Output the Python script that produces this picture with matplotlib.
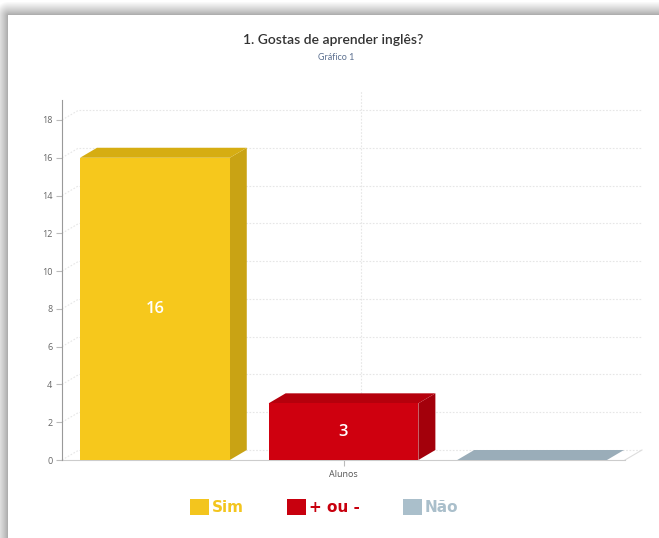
import numpy as np
import matplotlib.pyplot as plt
from matplotlib.patches import Polygon

# Dados do gráfico
categorias = ["Alunos"]
series = ["Sim", "+ ou -", "Não"]
valores = [16, 3, 0]

titulo = "1. Gostas de aprender inglês?"
subtitulo = "Gráfico 1"

# Cores (frente, topo, lado, legenda)
cor_frente = ["#F6C81C", "#CF000F", "#9DB0BC"]
cor_topo = ["#D6AD12", "#B5000C", "#9AADB9"]
cor_lado = ["#C9A314", "#A3000B", "#8E9FAA"]
cor_legenda = ["#F3C51E", "#C8000E", "#AABFCB"]

W, H = 659, 538
fig = plt.figure(figsize=(W / 100, H / 100), dpi=100)

# Moldura branca com sombra em cima e à esquerda
yy, xx = np.mgrid[0:H, 0:W]
dx = np.clip(8 - xx, 0, None)
dy = np.clip(15 - yy, 0, None)
d = np.hypot(dx, dy)
sombra = np.where(d > 0, 0.64 + 0.36 * np.clip(d / 14.0, 0, 1) ** 0.8, 1.0)
img = np.dstack([sombra, sombra, sombra])
fig.figimage(img, 0, 0, origin="upper", zorder=0)

# Área do gráfico
ax = fig.add_axes([62 / W, 78 / H, 563 / W, 360 / H])
ax.set_zorder(2)
ax.patch.set_visible(False)
ymax = 360 / 18.89
ax.set_xlim(-0.5, 0.5)
ax.set_ylim(0, ymax)

# profundidade 3D em unidades de dados
DX = 17 / 563
DY = 10 / 18.89

passo = 0.335
largura = 0.266
posicoes = [(i - 1) * passo for i in range(len(series))]

# grelha na parede do fundo e na parede lateral
grid_kw = dict(color="#e6e6e6", lw=0.8, ls=(0, (1.5, 1.5)), zorder=1, clip_on=False)
yticks = list(range(0, 19, 2))
for t in yticks:
    ax.plot([-0.5 + DX, 0.5 + DX], [t + DY, t + DY], **grid_kw)
    ax.plot([-0.5, -0.5 + DX], [t, t + DY], **grid_kw)
ax.plot([DX, DX], [DY, ymax + DY], **grid_kw)
ax.plot([0.5, 0.5 + DX], [0, DY], color="#dddddd", lw=0.8, zorder=1, clip_on=False)

# colunas 3D
for x, v, cf, ct, cl in zip(posicoes, valores, cor_frente, cor_topo, cor_lado):
    x0, x1 = x - largura / 2, x + largura / 2
    ax.add_patch(Polygon([(x1, 0), (x1 + DX, DY), (x1 + DX, v + DY), (x1, v)],
                         closed=True, fc=cl, ec="none", zorder=3, clip_on=False))
    ax.add_patch(Polygon([(x0, v), (x1, v), (x1 + DX, v + DY), (x0 + DX, v + DY)],
                         closed=True, fc=ct, ec="none", zorder=3, clip_on=False))
ax.bar(posicoes, valores, width=largura, color=cor_frente, zorder=4)

# rótulos de valor
for x, v in zip(posicoes, valores):
    if v > 0:
        ax.text(x, v / 2, str(v), color="white", fontsize=12, ha="center",
                va="center", family="Open Sans", fontweight="semibold", zorder=5)

# eixos
ax.set_yticks(yticks)
ax.set_xticks([0])
ax.set_xticklabels(categorias)
ax.tick_params(axis="y", labelsize=6.5, labelcolor="#666666", color="#bbbbbb",
               length=4, width=0.8, pad=3)
ax.tick_params(axis="x", labelsize=6.5, labelcolor="#555555", color="#bbbbbb",
               length=4, width=0.8, pad=3)
for lbl in ax.get_xticklabels() + ax.get_yticklabels():
    lbl.set_family("Open Sans")
ax.spines["top"].set_visible(False)
ax.spines["right"].set_visible(False)
ax.spines["left"].set_color("#999999")
ax.spines["left"].set_linewidth(0.8)
ax.spines["left"].set_zorder(6)
ax.spines["bottom"].set_color("#cccccc")
ax.spines["bottom"].set_linewidth(0.8)

# título e subtítulo
fig.text(333 / W, 1 - 40 / H, titulo, ha="center", va="center", fontsize=10,
         family="Lato", fontweight="semibold", color="#333333", zorder=3)
fig.text(336 / W, 1 - 58 / H, subtitulo, ha="center", va="center", fontsize=6.5,
         family="Lato", color="#5b6f8f", zorder=3)

# legenda
handles = [plt.Rectangle((0, 0), 1, 1, fc=c, ec="none") for c in cor_legenda]
leg = fig.legend(handles, series, loc="center", bbox_to_anchor=(324 / W, 1 - 507 / H),
                 ncol=3, frameon=False, handlelength=1.25, handleheight=1.25,
                 handletextpad=0.2, columnspacing=2.8,
                 prop=dict(family="DejaVu Sans", weight="bold", size=11))
leg.set_zorder(3)
for txt, c in zip(leg.get_texts(), cor_legenda):
    txt.set_color(c)

fig.savefig("out.png", dpi=100)
